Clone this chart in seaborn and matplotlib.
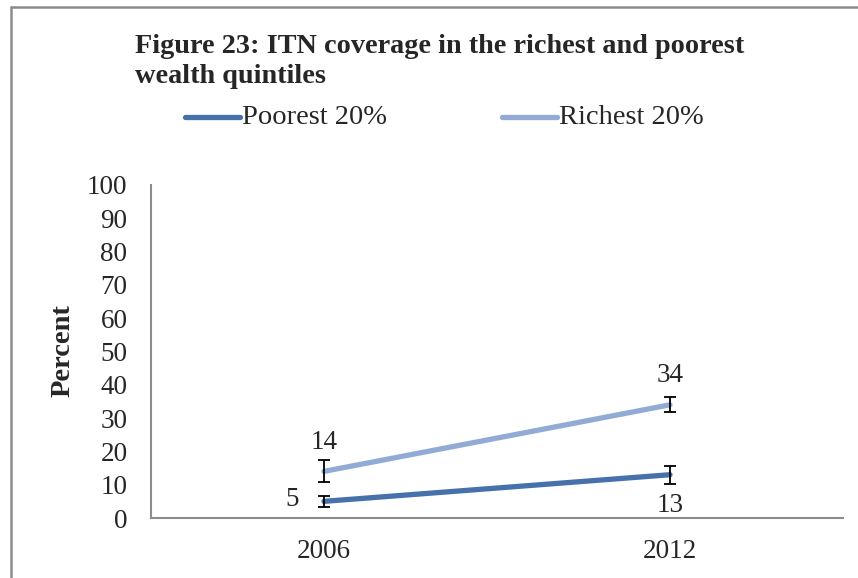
import matplotlib
matplotlib.use("Agg")
import matplotlib.pyplot as plt
import seaborn as sns
import pandas as pd
from matplotlib.lines import Line2D

# === Data ===
years = ["2006", "2012"]
poorest = [5, 13]
richest = [14, 34]
poorest_err = [1.6, 2.7]
richest_err = [3.3, 2.3]
series_names = ["Poorest 20%", "Richest 20%"]
colors = {"Poorest 20%": "#4671AA", "Richest 20%": "#92ABD4"}

df = pd.DataFrame({
    "year": years * 2,
    "value": poorest + richest,
    "series": [series_names[0]] * 2 + [series_names[1]] * 2,
})

W, H = 858, 578
def fx(px):
    return px / W
def fy(py):
    return 1 - py / H

# === Style ===
sns.set_style("white")
plt.rcParams["font.family"] = ["Liberation Serif", "DejaVu Serif"]
FS = 19.5
GRAY = "#8c8c8c"

fig = plt.figure(figsize=(W / 100, H / 100), dpi=100)
ax = fig.add_axes([fx(151), fy(518), fx(843) - fx(151), fy(185) - fy(518)])

sns.lineplot(data=df, x="year", y="value", hue="series", palette=colors,
             linewidth=3.8, sort=False, ax=ax, legend=False)
for ln in ax.lines:
    ln.set_solid_capstyle("round")

# error bars
for vals, errs in [(poorest, poorest_err), (richest, richest_err)]:
    ax.errorbar(years, vals, yerr=errs, fmt="none", ecolor="black",
                elinewidth=1.3, capsize=4.5, capthick=1.3, zorder=5)

# data labels
lab = dict(fontsize=FS, textcoords="offset points", ha="center", va="center")
ax.annotate(str(poorest[0]), (0, poorest[0]), xytext=(-23, 1.5), **lab)
ax.annotate(str(richest[0]), (0, richest[0]), xytext=(0, 21), **lab)
ax.annotate(str(richest[1]), (1, richest[1]), xytext=(0, 21), **lab)
ax.annotate(str(poorest[1]), (1, poorest[1]), xytext=(0, -22), **lab)

# axes
ax.set_xlim(-0.5, 1.5)
ax.set_ylim(0, 100)
ax.set_yticks(range(0, 101, 10))
ax.set_xticks([0, 1])
ax.set_xticklabels(years)
ax.set_xticks([-0.5, 0.5, 1.5], minor=True)
ax.tick_params(axis="x", which="major", length=0, labelsize=FS, pad=15)
ax.tick_params(axis="x", which="minor", length=5, width=1.2, color=GRAY, direction="out")
ax.tick_params(axis="y", length=5, width=1.2, color=GRAY, direction="out", labelsize=FS, pad=12)
ax.set_xlabel("")
ax.set_ylabel("")
fig.text(fx(63), fy(351), "Percent", rotation=90, ha="center", va="center",
         fontsize=20.5, fontweight="bold")
for side in ["top", "right"]:
    ax.spines[side].set_visible(False)
for side in ["left", "bottom"]:
    ax.spines[side].set_color(GRAY)
    ax.spines[side].set_linewidth(1.5)

# legend (drawn in figure space, as in the original layout)
legend_pos = [(185, 240), (502, 557)]
for name, (x0, x1) in zip(series_names, legend_pos):
    fig.add_artist(Line2D([fx(x0), fx(x1)], [fy(117), fy(117)], color=colors[name],
                          lw=3.8, solid_capstyle="round", transform=fig.transFigure))
    fig.text(fx(x1 + 2), fy(124), name, ha="left", va="baseline", fontsize=20.5)

# title
fig.text(fx(135), fy(53), "Figure 23: ITN coverage in the richest and poorest",
         ha="left", va="baseline", fontsize=20.3, fontweight="bold")
fig.text(fx(135), fy(83), "wealth quintiles",
         ha="left", va="baseline", fontsize=20.3, fontweight="bold")

# outer border (left and top)
fig.add_artist(Line2D([fx(11), fx(11)], [0, fy(7)], color=GRAY, lw=1.8,
                      transform=fig.transFigure))
fig.add_artist(Line2D([fx(11), 1], [fy(7), fy(7)], color=GRAY, lw=1.8,
                      transform=fig.transFigure))

fig.savefig("out.png", dpi=100)
